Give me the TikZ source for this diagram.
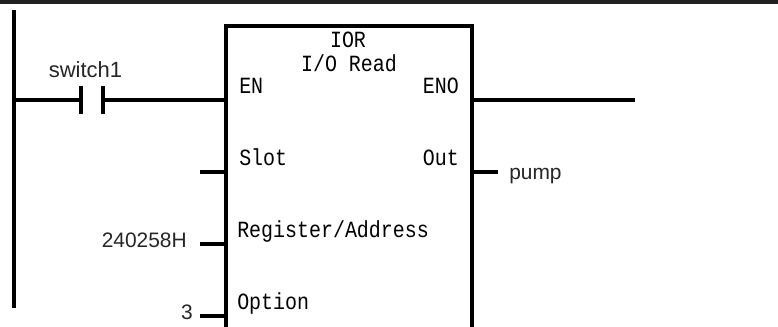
\documentclass[tikz,border=0pt]{standalone}
\usepackage{fontspec}
\setmainfont{Liberation Sans}
\newfontfamily\blockfont[FakeStretch=0.86]{Liberation Mono}
\tikzset{
  wire/.style={line width=2.4pt,black,line cap=butt},
  fblock/.style={draw=black,line width=2.4pt,rectangle,inner sep=0pt,outer sep=0pt,fill=white},
  pin/.style={font=\blockfont\fontsize{17.4}{17.4}\selectfont,text=black,inner sep=0pt,anchor=base west},
  pinr/.style={pin,anchor=base east},
  title/.style={pin,anchor=base},
  tag/.style={font=\fontsize{15.7}{15.7}\selectfont,text=black!85,inner sep=0pt,anchor=base east},
  tagl/.style={tag,anchor=base west},
  tagc/.style={tag,font=\fontsize{16.5}{16.5}\selectfont,anchor=base}
}
\begin{document}
\begin{tikzpicture}[x=0.75pt,y=-0.75pt]
\useasboundingbox[fill=white] (0,0) rectangle (778,327);
\clip (0,0) rectangle (778,327);
% top bar
\coordinate (barL) at (0,2);
\coordinate (barR) at (778,2);
\draw[line width=2.7pt,black!87] (barL) -- (barR);
% left rail
\coordinate (railT) at (14,10);
\coordinate (railB) at (14,308);
\coordinate (railM) at (14,100);
\draw[wire] (railT) -- (railB);
% block
\coordinate (blkNW) at (226,26);
\node[fblock,minimum width=246*0.75pt,minimum height=315*0.75pt,anchor=north west] (block) at (blkNW) {};
% contact
\coordinate (c1T) at (81,86);
\coordinate (c1B) at (81,114);
\coordinate (c1M) at (81,100);
\coordinate (c2T) at (103,86);
\coordinate (c2B) at (103,114);
\coordinate (c2M) at (103,100);
\draw[wire] (c1T) -- (c1B);
\draw[wire] (c2T) -- (c2B);
\draw[wire] (railM) -- (c1M);
\draw[wire] (c2M) -- (block.west |- c2M);
% stubs
\coordinate (s1) at (200,172);
\coordinate (s2) at (200,244);
\coordinate (s3) at (200,316);
\draw[wire] (s1) -- (block.west |- s1);
\draw[wire] (s2) -- (block.west |- s2);
\draw[wire] (s3) -- (block.west |- s3);
\coordinate (enoEnd) at (635,100);
\coordinate (outEnd) at (498,172);
\draw[wire] (block.east |- enoEnd) -- (enoEnd);
\draw[wire] (block.east |- outEnd) -- (outEnd);
% labels
\node[title] (ior) at (348,48) {IOR};
\node[title] (iord) at (349,72) {I/O Read};
\node[pin] (en) at (239,94) {EN};
\node[pinr] (eno) at (459,94) {ENO};
\node[pin] (slot) at (239,166) {Slot};
\node[pinr] (out) at (459,166) {Out};
\node[pin] (reg) at (237,238) {Register/Address};
\node[pin] (opt) at (237,310) {Option};
\node[tagc] (sw) at (85.5,78) {switch1};
\node[tag] (addr) at (187,248) {240258H};
\node[tag] (three) at (193,320) {3};
\node[tagl] (pump) at (509,180) {pump};
\end{tikzpicture}
\end{document}
